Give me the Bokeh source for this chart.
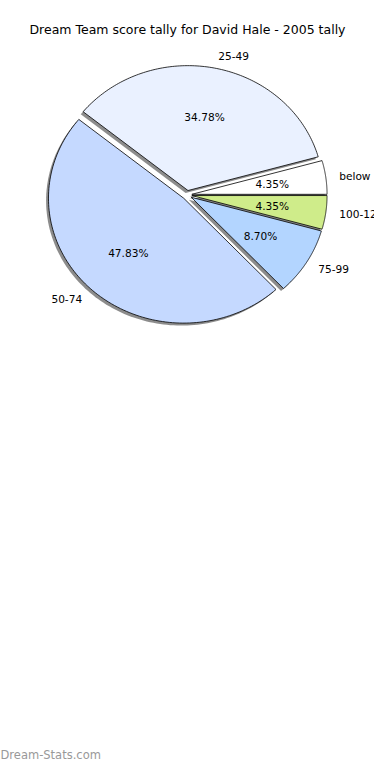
import numpy as np
from bokeh.plotting import figure
from bokeh.models import Range1d, ColumnDataSource
from bokeh.core.properties import value
from bokeh.embed import file_html
from bokeh.resources import INLINE

# ---- data ----
title_text = "Dream Team score tally for David Hale - 2005 tally"
labels = ["below 0", "25-49", "50-74", "75-99", "100-124"]
counts = [1, 8, 11, 2, 1]
colors = ["#ffffff", "#eaf1ff", "#c5d9ff", "#b3d5ff", "#cfec8a"]
watermark = "Dream-Stats.com"

# ---- layout (data space = reference 390x780 canvas) ----
W, H = 374, 764
RW, RH = 390, 780
cx, cy = 194.5, 198.5      # pie centre
rx, ry = 141.0, 127.5      # elliptical radii (reference is stretched)
explode = 0.036
shadow_dx, shadow_dy = -2.5, 2.5
FONT = "DejaVu Sans"

p = figure(width=W, height=H, output_backend="svg", toolbar_location=None,
           x_range=Range1d(0, RW), y_range=Range1d(RH, 0), min_border=0)
p.axis.visible = False
p.grid.visible = False
p.outline_line_color = None
p.background_fill_color = "white"
p.border_fill_color = "white"

total = float(sum(counts))
fracs = np.array(counts) / total
ends = np.cumsum(fracs) * 2 * np.pi
starts = ends - fracs * 2 * np.pi

xs, ys, sxs, sys_ = [], [], [], []
lab_x, lab_y, lab_align = [], [], []
pct_x, pct_y, pct_txt = [], [], []
for a0, a1, f in zip(starts, ends, fracs):
    mid = 0.5 * (a0 + a1)
    ox = cx + explode * rx * np.cos(mid)
    oy = cy - explode * ry * np.sin(mid)
    t = np.linspace(a0, a1, 120)
    px = np.concatenate([[ox], ox + rx * np.cos(t)])
    py = np.concatenate([[oy], oy - ry * np.sin(t)])
    xs.append(list(px)); ys.append(list(py))
    sxs.append(list(px + shadow_dx)); sys_.append(list(py + shadow_dy))
    lab_x.append(ox + 1.1 * rx * np.cos(mid))
    lab_y.append(oy - 1.1 * ry * np.sin(mid))
    lab_align.append("left" if np.cos(mid) > 0 else "right")
    pct_x.append(ox + 0.6 * rx * np.cos(mid))
    pct_y.append(oy - 0.6 * ry * np.sin(mid))
    pct_txt.append("%.2f%%" % (f * 100))

# shadows
p.patches(sxs, sys_, fill_color="black", fill_alpha=0.45, line_color=None)
# wedges
p.patches(xs, ys, fill_color=colors, line_color="black", line_width=0.8)

# outer labels
src = ColumnDataSource(dict(x=lab_x, y=lab_y, t=labels, a=lab_align))
p.text(x="x", y="y", text="t", text_align="a", source=src,
       text_baseline="middle", text_font=value(FONT), text_font_size="10.6px",
       text_color="black")
# percentages
p.text(x=pct_x, y=pct_y, text=pct_txt, text_align="center",
       text_baseline="middle", text_font=value(FONT), text_font_size="10.6px",
       text_color="black")

# title
p.text(x=[RW / 2], y=[30], text=[title_text], text_align="center",
       text_baseline="middle", text_font=value(FONT), text_font_size="12.5px",
       text_color="black")

# watermark
p.text(x=[0], y=[770], text=[watermark], text_align="left",
       text_baseline="middle", text_font=value(FONT), text_font_size="11.5px",
       text_color="#999999")

open("out.html", "w").write(file_html(p, INLINE))
